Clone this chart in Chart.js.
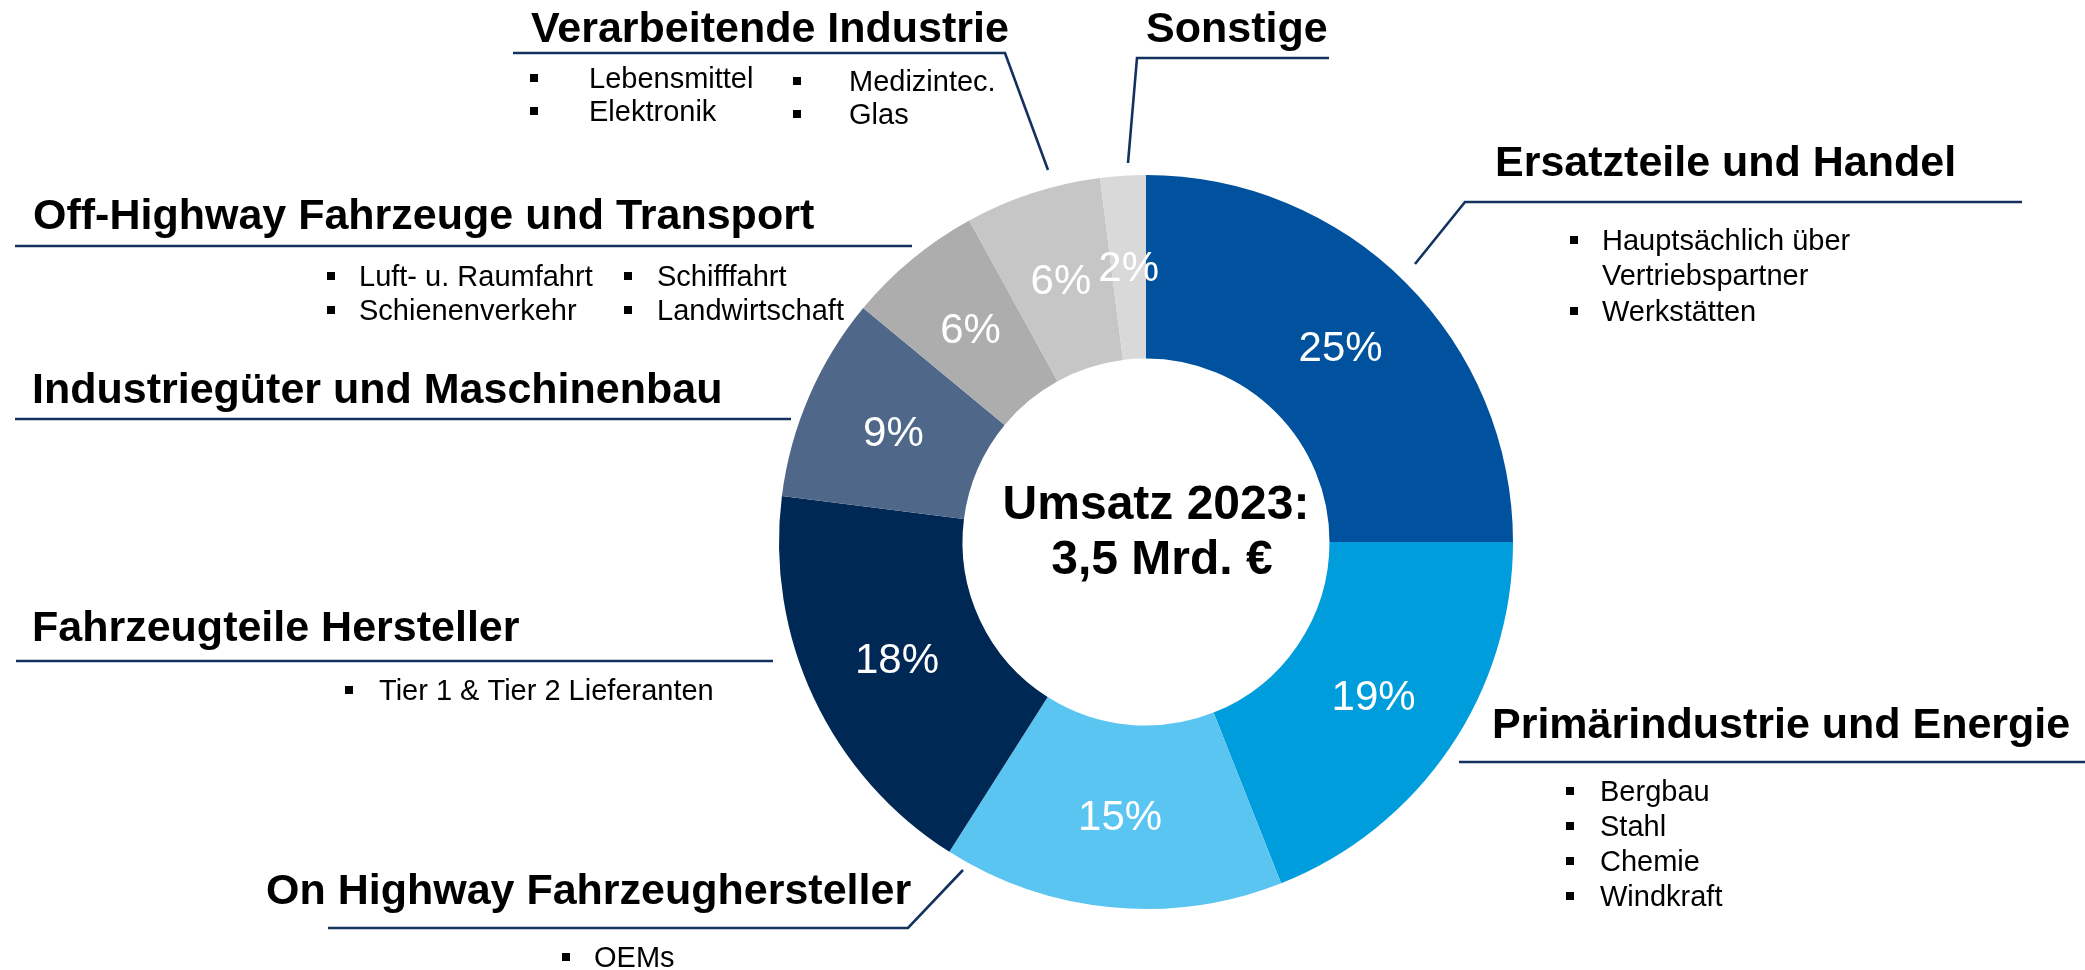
<!DOCTYPE html>
<html>
<head>
<meta charset="utf-8">
<script src="https://cdn.jsdelivr.net/npm/chart.js@4.4.1/dist/chart.umd.min.js"></script>
<style>
  html, body { margin: 0; padding: 0; background: #ffffff; }
  #wrap { position: relative; width: 2085px; height: 970px; }
</style>
</head>
<body>
<div id="wrap"><canvas id="c"></canvas></div>
<script>
// ---- data ----
const categories = [
  'Ersatzteile und Handel',
  'Primärindustrie und Energie',
  'On Highway Fahrzeughersteller',
  'Fahrzeugteile Hersteller',
  'Industriegüter und Maschinenbau',
  'Off-Highway Fahrzeuge und Transport',
  'Verarbeitende Industrie',
  'Sonstige'
];
const shares = [25, 19, 15, 18, 9, 6, 6, 2];
const sliceColors = ['#00519e', '#009ddc', '#5bc5f1', '#002855', '#4f6788', '#adadad', '#c6c6c6', '#d9d9d9'];
const centerLines = ['Umsatz 2023:', '3,5 Mrd. €'];
const subItems = [
  ['Hauptsächlich über', 'Vertriebspartner', 'Werkstätten'],
  ['Bergbau', 'Stahl', 'Chemie', 'Windkraft'],
  ['OEMs'],
  ['Tier 1 & Tier 2 Lieferanten'],
  [],
  ['Luft- u. Raumfahrt', 'Schienenverkehr', 'Schifffahrt', 'Landwirtschaft'],
  ['Lebensmittel', 'Elektronik', 'Medizintec.', 'Glas'],
  []
];

// ---- layout of the callouts (positions only) ----
const FONT = "'Liberation Sans', Arial, Helvetica, sans-serif";
const LINE = '#14325f';
const callouts = [
  { title: [1495, 176], path: [[1415, 264], [1465, 202], [2022, 202]],
    items: [[1602, 250, true], [1602, 285, false], [1602, 321, true]], bullet: 1570 },
  { title: [1492, 738], path: [[1459, 762], [2085, 762]],
    items: [[1600, 801, true], [1600, 836, true], [1600, 871, true], [1600, 906, true]], bullet: 1566 },
  { title: [266, 904], path: [[328, 928], [908, 928], [963, 870]],
    items: [[594, 967, true]], bullet: 562 },
  { title: [32, 641], path: [[16, 661], [773, 661]],
    items: [[379, 700, true]], bullet: 345 },
  { title: [32, 403], path: [[15, 419], [791, 419]], items: [], bullet: 0 },
  { title: [33, 229], path: [[15, 246], [912, 246]],
    items: [[359, 286, true, 327], [359, 320, true, 327], [657, 286, true, 624], [657, 320, true, 624]], bullet: 327 },
  { title: [531, 42], path: [[513, 53], [1005, 53], [1048, 170]],
    items: [[589, 88, true, 530], [589, 121, true, 530], [849, 91, true, 793], [849, 124, true, 793]], bullet: 530 },
  { title: [1146, 42], path: [[1128, 163], [1137, 58], [1329, 58]], items: [], bullet: 0 }
];

const overlay = {
  id: 'overlay',
  afterDatasetsDraw(chart) {
    const ctx = chart.ctx;
    const meta = chart.getDatasetMeta(0);
    ctx.save();
    // percentage labels inside the slices
    ctx.fillStyle = '#ffffff';
    ctx.font = '42px ' + FONT;
    ctx.textAlign = 'center';
    ctx.textBaseline = 'middle';
    meta.data.forEach((arc, i) => {
      const p = arc.tooltipPosition();
      ctx.fillText(shares[i] + '%', p.x, p.y + 2);
    });
    // centre text
    const c = meta.data[0];
    ctx.fillStyle = '#000000';
    ctx.font = 'bold 48px ' + FONT;
    ctx.textBaseline = 'alphabetic';
    ctx.fillText(centerLines[0], c.x + 10, c.y - 23);
    ctx.fillText(centerLines[1], c.x + 16, c.y + 32);

    // callouts
    callouts.forEach((co, i) => {
      ctx.strokeStyle = LINE;
      ctx.lineWidth = 2.6;
      ctx.lineJoin = 'miter';
      ctx.beginPath();
      co.path.forEach((pt, k) => k ? ctx.lineTo(pt[0], pt[1]) : ctx.moveTo(pt[0], pt[1]));
      ctx.stroke();

      ctx.fillStyle = '#000000';
      ctx.textAlign = 'left';
      ctx.textBaseline = 'alphabetic';
      ctx.font = 'bold 43px ' + FONT;
      ctx.fillText(categories[i], co.title[0], co.title[1]);

      ctx.font = '29px ' + FONT;
      subItems[i].forEach((txt, k) => {
        const it = co.items[k];
        ctx.fillText(txt, it[0], it[1]);
        if (it[2]) {
          const bx = it[3] !== undefined ? it[3] : co.bullet;
          ctx.fillRect(bx, it[1] - 14, 8, 8);
        }
      });
    });
    ctx.restore();
  }
};

new Chart(document.getElementById('c'), {
  type: 'doughnut',
  data: {
    labels: categories,
    datasets: [{
      data: shares,
      backgroundColor: sliceColors,
      borderWidth: 0,
      hoverOffset: 0
    }]
  },
  options: {
    responsive: true,
    maintainAspectRatio: false,
    animation: false,
    events: [],
    cutout: '50%',
    layout: { padding: { left: 779, right: 572, top: 175, bottom: 61 } },
    plugins: { legend: { display: false }, tooltip: { enabled: false }, title: { display: false } }
  },
  plugins: [overlay]
});
</script>
</body>
</html>
